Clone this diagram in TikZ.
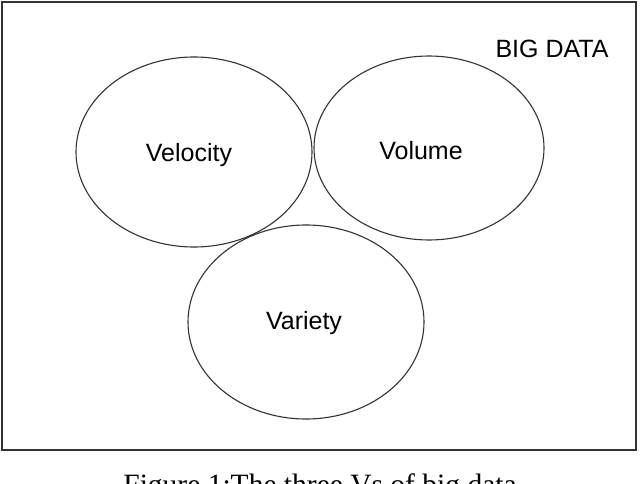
\documentclass[tikz,border=0pt]{standalone}
\usepackage{fontspec}
\setmainfont{Liberation Sans}
\newfontfamily\capfont{Liberation Serif}
\begin{document}
\begin{tikzpicture}[x=1pt,y=-1pt,
  venn/.style={draw=black!80,line width=1.1pt},
  lbl/.style={font=\fontsize{25}{28}\selectfont}]
\useasboundingbox (0,0) rectangle (640,484);
\node[draw=black!80,line width=1.1pt,minimum width=634pt,minimum height=448pt,inner sep=0pt] (frame) at (319,226) {};
\draw[venn] (194,152) ellipse [x radius=118, y radius=95];
\draw[venn] (429,148) ellipse [x radius=115, y radius=92];
\draw[venn] (306,322) ellipse [x radius=118, y radius=97];
\node[lbl] (vel) at (189,155) {Velocity};
\node[lbl] (vol) at (421,151) {Volume};
\node[lbl] (var) at (304,323) {Variety};
\node[lbl] (big) at (552,49) {BIG DATA};
\node[font=\capfont\fontsize{29.5}{32}\selectfont,anchor=base] (cap) at (320,494) {Figure 1:The three Vs of big data};
\end{tikzpicture}
\end{document}
